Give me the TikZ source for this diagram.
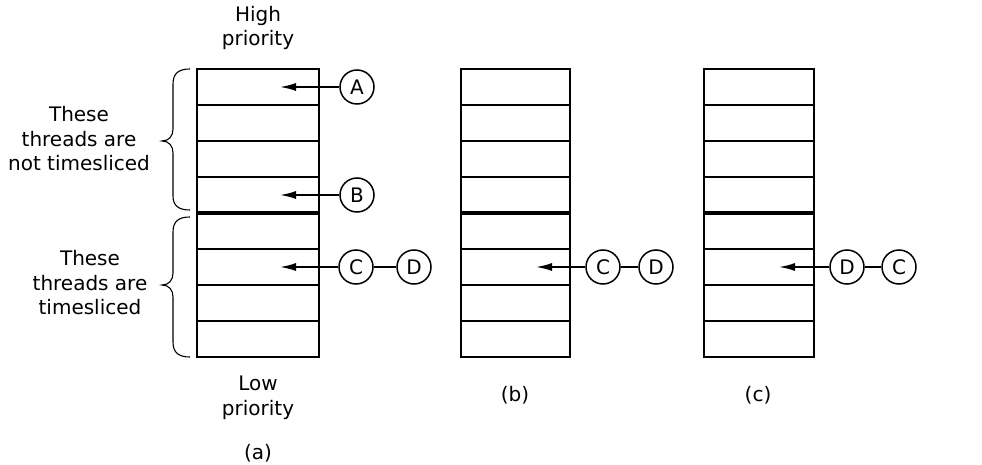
\documentclass[tikz,border=0pt]{standalone}
\usepackage{fontspec}
\setmainfont{DejaVu Sans}
\usetikzlibrary{arrows.meta}
\begin{document}
\begin{tikzpicture}[x=1pt,y=-1pt,
  cell/.style={draw, line width=1.8pt, minimum height=36pt, inner sep=0pt, outer sep=0pt},
  sep/.style={line width=3.4pt},
  thread/.style={draw, circle, line width=1.5pt, minimum size=34pt, inner sep=0pt, font=\fontsize{20}{24}\selectfont},
  ptr/.style={-{Latex[length=16pt,width=8pt]}, line width=1.7pt},
  link/.style={line width=1.7pt},
  bracepath/.style={line width=1.1pt},
  lbl/.style={align=center, font=\fontsize{20}{24.5}\selectfont, inner sep=0pt}]
\useasboundingbox (0,0) rectangle (982,465);

% stacks
\foreach \i in {1,...,8} {
  \node[cell, minimum width=122pt] (a\i) at (258, {69+36*\i-18}) {};
  \node[cell, minimum width=109pt] (b\i) at (515.5, {69+36*\i-18}) {};
  \node[cell, minimum width=110pt] (c\i) at (759, {69+36*\i-18}) {};
}
\draw[sep] (a4.south west) -- (a4.south east);
\draw[sep] (b4.south west) -- (b4.south east);
\draw[sep] (c4.south west) -- (c4.south east);

% threads in (a)
\node[thread] (A) at (357,87) {A};
\node[thread] (B) at (357,195) {B};
\node[thread] (Ca) at (356,267) {C};
\node[thread] (Da) at (414,267) {D};
\coordinate (tA) at (280,87);
\coordinate (tB) at (280,195);
\coordinate (tC) at (280,267);
\draw[ptr] (A) -- (tA);
\draw[ptr] (B) -- (tB);
\draw[ptr] (Ca) -- (tC);
\draw[link] (Ca) -- (Da);

% threads in (b)
\node[thread] (Cb) at (603,267) {C};
\node[thread] (Db) at (656,267) {D};
\coordinate (tb) at (536,267);
\draw[ptr] (Cb) -- (tb);
\draw[link] (Cb) -- (Db);

% threads in (c)
\node[thread] (Dc) at (847,267) {D};
\node[thread] (Cc) at (899,267) {C};
\coordinate (tc) at (779,267);
\draw[ptr] (Dc) -- (tc);
\draw[link] (Dc) -- (Cc);

% braces
\draw[bracepath] (190,69) .. controls (179,69) and (173,73) .. (173,84) -- (173,129)
  .. controls (173,136) and (169,141) .. (162,141)
  .. controls (169,141) and (173,146) .. (173,153) -- (173,196)
  .. controls (173,206) and (179,210) .. (190,210);
\draw[bracepath] (190,217) .. controls (179,217) and (173,221) .. (173,232) -- (173,273)
  .. controls (173,280) and (169,285) .. (162,285)
  .. controls (169,285) and (173,290) .. (173,297) -- (173,342)
  .. controls (173,353) and (179,357) .. (190,357);

% labels
\node[lbl] (hi) at (258,28) {High\\priority};
\node[lbl] (lo) at (258,398) {Low\\priority};
\node[lbl] (nts) at (79,139) {These\\threads are\\not timesliced};
\node[lbl] (ts) at (90,283) {These\\threads are\\timesliced};
\node[lbl] (la) at (258,453) {(a)};
\node[lbl] (lb) at (515,395) {(b)};
\node[lbl] (lc) at (758,395) {(c)};
\end{tikzpicture}
\end{document}
